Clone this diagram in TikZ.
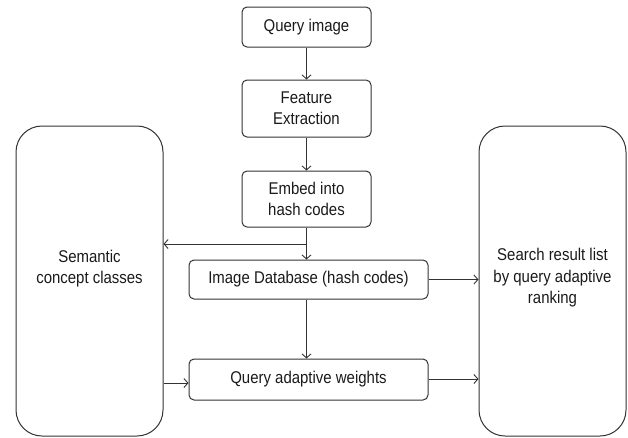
\documentclass[tikz,border=0pt]{standalone}
\usepackage{fontspec}
\setmainfont[FakeStretch=0.88]{Liberation Sans}
\usetikzlibrary{arrows.meta}
\definecolor{ln}{HTML}{333333}
\definecolor{tx}{HTML}{1A1A1A}
\tikzset{
  box/.style={draw=ln, line width=1pt, rounded corners=5pt, inner sep=0pt, align=center, text=tx, font=\fontsize{17}{21}\selectfont},
  bigbox/.style={draw=ln, line width=1pt, rounded corners=26pt, inner sep=0pt, minimum width=147pt, minimum height=310pt},
  lbl/.style={align=center, text=tx, inner sep=0pt, font=\fontsize{17}{21.5}\selectfont},
  arr/.style={draw=ln, line width=0.9pt, -{Straight Barb[length=4pt,width=9pt]}}
}
\begin{document}
\begin{tikzpicture}[x=1pt,y=-1pt]
\useasboundingbox (0,0) rectangle (628,437);
\node[box, minimum width=129pt, minimum height=40pt] (qi) at (306.5,27) {Query image};
\node[box, minimum width=129pt, minimum height=57pt] (fe) at (306.5,108.5) {Feature\\Extraction};
\node[box, minimum width=129pt, minimum height=56pt] (em) at (306.5,199) {Embed into\\hash codes};
\node[box, minimum width=239pt, minimum height=39pt] (db) at (308.5,279.5) {Image Database (hash codes)};
\node[box, minimum width=239pt, minimum height=41pt] (qw) at (308.5,379.5) {Query adaptive weights};
\node[bigbox] (sem) at (89.5,281) {};
\node[bigbox] (sr) at (552.5,281) {};
\node[lbl] (semt) at (89.5,268.5) {Semantic\\concept classes};
\node[lbl] (srt) at (552.5,278) {Search result list\\by query adaptive\\ranking};
\coordinate (br) at (307,244);
\draw[arr] (qi.south) -- (fe.north);
\draw[arr] (fe.south) -- (em.north);
\draw[arr] (em.south) -- (db.north -| em.south);
\draw[arr] (br) -- (br -| sem.east);
\draw[arr] (db.south -| em.south) -- (qw.north -| em.south);
\draw[arr] (db.east) -- (db.east -| sr.west);
\draw[arr] (sem.east |- 0,383) -- (qw.west |- 0,383);
\draw[arr] (qw.east |- 0,379) -- (sr.west |- 0,379);
\end{tikzpicture}
\end{document}
